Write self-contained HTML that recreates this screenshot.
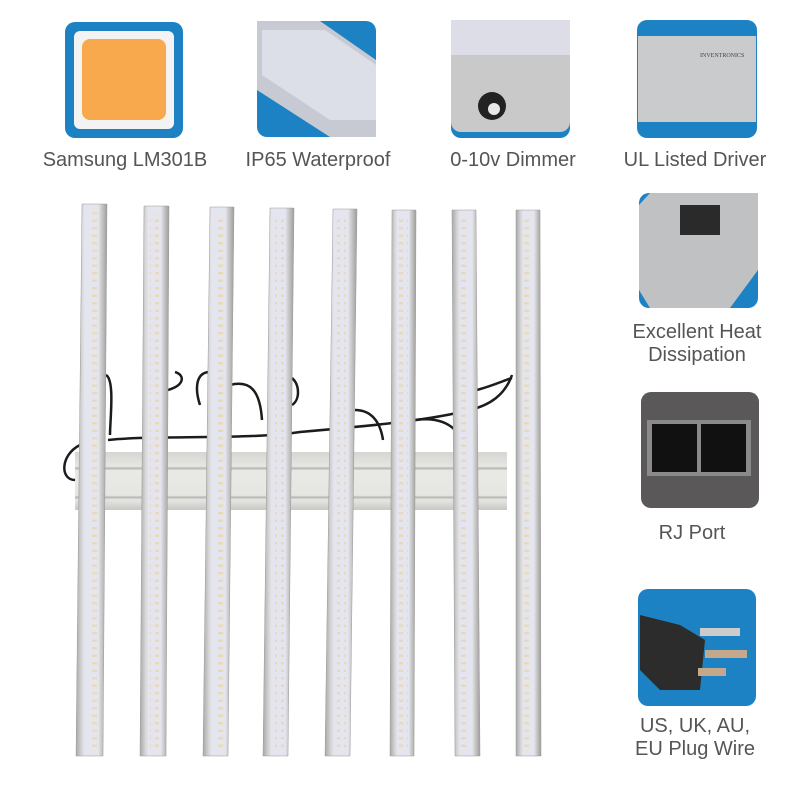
<!DOCTYPE html>
<html><head><meta charset="utf-8"><style>
body{margin:0;background:#fff;}
.w{position:relative;width:799px;height:799px;overflow:hidden;font-family:"Liberation Sans",sans-serif;}
.t{position:absolute;color:#555;font-size:20px;text-align:center;white-space:nowrap;line-height:23px;}
</style></head><body><div class="w">
<svg width="799" height="799" style="position:absolute;left:0;top:0">
<defs>
<linearGradient id="bar" x1="0" x2="1">
<stop offset="0" stop-color="#a9a9a9"/><stop offset=".2" stop-color="#d8d8d8"/><stop offset=".28" stop-color="#e4e5ee"/><stop offset=".72" stop-color="#e4e5ee"/><stop offset=".8" stop-color="#d0d0d0"/><stop offset="1" stop-color="#9d9d9d"/>
</linearGradient>
<linearGradient id="cross" x1="0" y1="0" x2="0" y2="1">
<stop offset="0" stop-color="#d5d5d2"/><stop offset=".25" stop-color="#e6e6e2"/><stop offset=".28" stop-color="#b5b5b2"/><stop offset=".32" stop-color="#e9e9e6"/><stop offset=".75" stop-color="#e6e6e2"/><stop offset=".78" stop-color="#b5b5b2"/><stop offset=".82" stop-color="#e6e6e3"/><stop offset="1" stop-color="#c8c8c5"/>
</linearGradient>
<pattern id="leds" width="9" height="7.5" patternUnits="userSpaceOnUse"><rect x="2" y="2" width="5" height="2.5" fill="#ead6ab"/></pattern>
</defs>
<rect x="65" y="22" width="118" height="116" rx="10" fill="#1d82c3"/>
<rect x="74" y="31" width="100" height="98" rx="6" fill="#f3f3f3"/>
<rect x="82" y="39" width="84" height="81" rx="8" fill="#f8a94d"/>
<rect x="257" y="21" width="119" height="116" rx="10" fill="#1d82c3"/>
<polygon points="257,21 320,21 376,60 376,137 330,137 257,90" fill="#c8cad3"/>
<polygon points="262,30 325,30 376,65 376,120 330,120 262,75" fill="#dcdee8"/>
<rect x="451" y="20" width="119" height="118" rx="10" fill="#1d82c3"/>
<rect x="451" y="20" width="119" height="112" rx="10" fill="#c9c9c9"/>
<rect x="451" y="20" width="119" height="35" fill="#dcdde6"/>
<circle cx="492" cy="106" r="14" fill="#222"/><circle cx="494" cy="109" r="6" fill="#e8e8e8"/>
<rect x="637" y="20" width="120" height="118" rx="10" fill="#1d82c3"/>
<rect x="638" y="36" width="118" height="86" fill="#c9cbcd"/>
<text x="700" y="57" font-size="6" fill="#444" font-family="Liberation Serif">INVENTRONICS</text>
<rect x="639" y="193" width="119" height="115" rx="10" fill="#1d82c3"/>
<polygon points="650,193 758,193 758,270 730,308 650,308 639,290 639,205" fill="#bfc1c2"/>
<rect x="680" y="205" width="40" height="30" fill="#2a2a2a"/>
<rect x="641" y="392" width="118" height="116" rx="10" fill="#5a5859"/>
<rect x="647" y="420" width="104" height="56" fill="#8a8a8a"/>
<rect x="652" y="424" width="45" height="48" fill="#111"/><rect x="701" y="424" width="45" height="48" fill="#111"/>
<rect x="638" y="589" width="118" height="117" rx="10" fill="#1d82c3"/>
<path d="M640,615 L680,625 L705,640 L700,690 L660,690 L640,670Z" fill="#2c2c2c"/>
<rect x="700" y="628" width="40" height="8" fill="#ccc"/><rect x="705" y="650" width="42" height="8" fill="#c4a88c"/><rect x="698" y="668" width="28" height="8" fill="#c4a88c"/>
<g fill="none" stroke="#1c1c1c" stroke-width="2.5">
<path d="M108,440 C150,435 250,440 300,432 C380,425 430,420 470,410 C490,405 505,395 512,375"/>
<path d="M80,445 C60,455 60,480 75,480"/>
<path d="M106,375 C115,380 110,420 110,435"/>
<path d="M168,390 C185,385 185,375 175,372"/>
<path d="M200,405 C195,390 195,372 210,372"/>
<path d="M230,385 C250,380 260,390 262,420"/>
<path d="M292,378 C300,385 300,400 292,405"/>
<path d="M355,410 C370,410 380,420 383,440"/>
<path d="M415,420 C430,418 445,420 455,430"/>
<path d="M477,390 C495,385 505,380 512,378"/>
</g>
<rect x="75" y="452" width="432" height="58" fill="url(#cross)"/>
<g stroke="#999" stroke-width=".5">
<polygon points="82,204 107,204 103,756 76,756" fill="url(#bar)"/>
<polygon points="144,206 169,206 166,756 140,756" fill="url(#bar)"/>
<polygon points="210,207 234,207 228,756 203,756" fill="url(#bar)"/>
<polygon points="270,208 294,208 288,756 263,756" fill="url(#bar)"/>
<polygon points="333,209 357,209 350,756 325,756" fill="url(#bar)"/>
<polygon points="392,210 416,210 414,756 390,756" fill="url(#bar)"/>
<polygon points="452,210 476,210 480,756 455,756" fill="url(#bar)"/>
<polygon points="516,210 540,210 541,756 516,756" fill="url(#bar)"/>
</g>
<g fill="url(#leds)" opacity=".75">
<rect x="89" y="212" width="9" height="538"/><rect x="150" y="214" width="9" height="536"/>
<rect x="215" y="215" width="9" height="535"/><rect x="275" y="216" width="9" height="534"/>
<rect x="337" y="217" width="9" height="533"/><rect x="399" y="218" width="9" height="532"/>
<rect x="461" y="218" width="9" height="532"/><rect x="524" y="218" width="9" height="532"/>
</g>
</svg>
<div class="t" style="left:25px;top:149px;width:200px">Samsung LM301B</div>
<div class="t" style="left:218px;top:149px;width:200px">IP65 Waterproof</div>
<div class="t" style="left:413px;top:149px;width:200px">0-10v Dimmer</div>
<div class="t" style="left:595px;top:149px;width:200px">UL Listed Driver</div>
<div class="t" style="left:597px;top:321px;width:200px">Excellent Heat<br>Dissipation</div>
<div class="t" style="left:592px;top:522px;width:200px">RJ Port</div>
<div class="t" style="left:595px;top:715px;width:200px">US, UK, AU,<br>EU Plug Wire</div>
</div></body></html>
